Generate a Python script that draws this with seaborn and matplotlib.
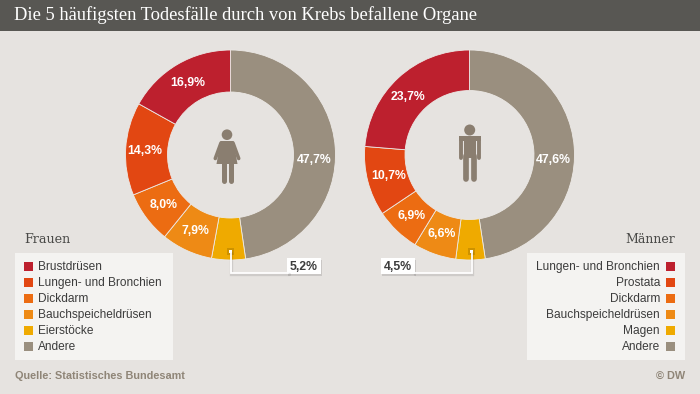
import matplotlib
matplotlib.use('Agg')
import matplotlib.pyplot as plt
import matplotlib.patheffects as pe
from matplotlib.patches import Rectangle, Circle, Polygon
import seaborn as sns

title = 'Die 5 häufigsten Todesfälle durch von Krebs befallene Organe'

# clockwise from the top
frauen_values = [47.7, 5.2, 7.9, 8.0, 14.3, 16.9]
maenner_values = [47.6, 4.5, 6.6, 6.9, 10.7, 23.7]
frauen_labels = ['Brustdrüsen', 'Lungen- und Bronchien', 'Dickdarm',
                 'Bauchspeicheldrüsen', 'Eierstöcke', 'Andere']
maenner_labels = ['Lungen- und Bronchien', 'Prostata', 'Dickdarm',
                  'Bauchspeicheldrüsen', 'Magen', 'Andere']
source = 'Quelle: Statistisches Bundesamt'

bg = '#e6e3e0'
colors = ['#bd202e', '#e24712', '#ec6c12', '#ee8a15', '#efaa00', '#9a8f7f']
icon = '#8a7e70'
text_col = '#3c3c3c'

sns.set_theme(style='white')
palette = sns.color_palette(colors)
plt.rcParams['font.family'] = ['Liberation Sans', 'DejaVu Sans']

fig = plt.figure(figsize=(7, 3.94), dpi=100, facecolor=bg)


def pct_label(p):
    # small slices get a callout instead
    return '' if p < 6 else f'{p:.1f}%'.replace('.', ',')


def donut(values, cx, ring):
    ax = fig.add_axes([(cx - 105) / 700, 1 - 260 / 394, 210 / 700, 210 / 394])
    # pie runs clockwise, so the colours go reversed
    _, _, autos = ax.pie(values, colors=palette[::-1], startangle=90, counterclock=False,
                         radius=1, autopct=pct_label, pctdistance=0.8,
                         wedgeprops=dict(width=ring, edgecolor='#ece9e6', linewidth=0.6))
    for t in autos:
        t.set_color('white')
        t.set_fontweight('bold')
        t.set_fontsize(8.8)
    ax.set_xlim(-1, 1)
    ax.set_ylim(-1, 1)
    return autos


autos_f = donut(frauen_values, 230.5, 0.4)
autos_m = donut(maenner_values, 469.5, 0.386)

# labels the original places by hand, off the slice middle
autos_f[0].set_position((0.8, -0.052))
autos_f[4].set_position((-0.815, 0.035))
autos_m[0].set_position((0.8, -0.048))
autos_m[5].set_position((-0.586, 0.552))

# overlay in pixel coordinates
ov = fig.add_axes([0, 0, 1, 1])
ov.set_xlim(0, 700)
ov.set_ylim(394, 0)
ov.axis('off')
ov.patch.set_alpha(0)

ov.add_patch(Rectangle((0, 0), 700, 30.5, color='#585753', lw=0))
ov.text(14, 15.5, title, color='white', family='Liberation Serif', fontsize=13.3,
        va='center', ha='left')


def legend(labels, x0, right):
    ov.add_patch(Rectangle((x0, 253), 158, 107, color='#f4f3f1', lw=0))
    for i, lab in enumerate(labels):
        y = 266.7 + i * 16
        if right:
            ov.add_patch(Rectangle((x0 + 139, y - 4.5), 9, 9, color=palette[i], lw=0))
            ov.text(x0 + 133, y, lab, ha='right', va='center', color=text_col, fontsize=8.6)
        else:
            ov.add_patch(Rectangle((x0 + 9, y - 4.5), 9, 9, color=palette[i], lw=0))
            ov.text(x0 + 23, y, lab, ha='left', va='center', color=text_col, fontsize=8.6)


legend(frauen_labels, 15, False)
legend(maenner_labels, 527, True)
ov.text(24, 239, 'Frauen', family='DejaVu Serif', color='#4a4a48', fontsize=9.2, va='center')
ov.text(675, 239, 'Männer', family='DejaVu Serif', color='#4a4a48', fontsize=9.0,
        va='center', ha='right')

ov.text(15, 376, source, color='#8f8577', fontweight='bold', fontsize=7.8, va='center')
ov.text(685, 376, '© DW', color='#8f8577', fontweight='bold', fontsize=7.8, va='center', ha='right')


def callout(dot_x, box_x, end_x, txt):
    ov.add_patch(Rectangle((dot_x - 3.5, 248), 7, 7, color='black', alpha=0.14, lw=0))
    ov.plot([dot_x + 0.7, dot_x + 0.7, end_x + 0.7], [253, 274.2, 274.2], color='black',
            alpha=0.10, lw=2.4, solid_joinstyle='miter')
    ov.plot([dot_x, dot_x, end_x], [251, 273.3, 273.3], color='white', lw=1.3,
            solid_joinstyle='miter')
    ov.add_patch(Rectangle((dot_x - 1.7, 249.5), 3.4, 3.4, color='white', lw=0))
    box = Rectangle((box_x, 257.7), 34, 16.6, color='white', lw=0)
    box.set_path_effects([pe.SimplePatchShadow(offset=(1, -1.5), alpha=0.18), pe.Normal()])
    ov.add_patch(box)
    ov.text(box_x + 17, 266.7, txt, ha='center', va='center', color=text_col,
            fontweight='bold', fontsize=8.8)


callout(230.5, 286.7, 288, '5,2%')
callout(471.5, 381, 414, '4,5%')

# woman
ov.add_patch(Circle((227, 134.7), 5.3, color=icon, lw=0))
ov.add_patch(Polygon([(220.5, 141), (233.5, 141), (237.5, 164), (216.5, 164)], color=icon, lw=0))
for xs in ([221, 215.3], [233, 238.7]):
    ov.plot(xs, [143, 158.5], color=icon, lw=2.6, solid_capstyle='round')
for x in (223.5, 230.5):
    ov.plot([x, x], [163, 181], color=icon, lw=3.6, solid_capstyle='round')

# man
ov.add_patch(Circle((469.7, 130), 5.5, color=icon, lw=0))
ov.add_patch(Rectangle((459.3, 136), 21.7, 5, color=icon, lw=0))
ov.add_patch(Rectangle((464, 136), 12, 22, color=icon, lw=0))
for x in (461.3, 479):
    ov.plot([x, x], [138, 157.5], color=icon, lw=2.8, solid_capstyle='round')
for x in (466.3, 473.7):
    ov.plot([x, x], [156, 178.5], color=icon, lw=4.1, solid_capstyle='round')

fig.savefig('out.png', dpi=100, facecolor=bg)
